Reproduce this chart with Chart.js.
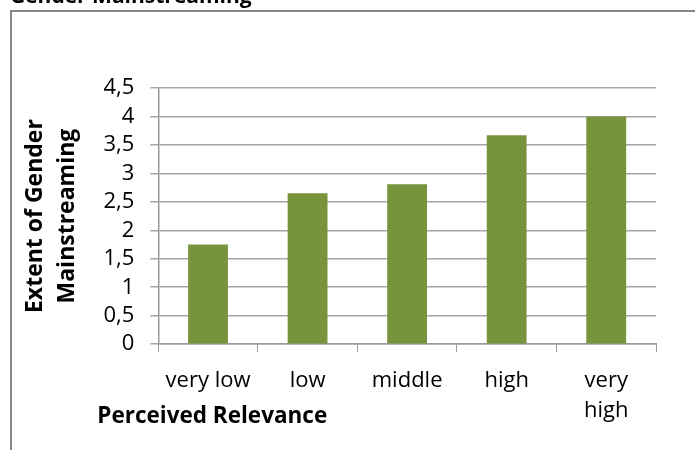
<!DOCTYPE html>
<html lang="en">
<head>
    <meta charset="UTF-8">
    <title>Gender Mainstreaming</title>
    <script src="https://cdn.jsdelivr.net/npm/chart.js"></script>
    <style>
        html, body { margin: 0; padding: 0; background: #fff; overflow: hidden; }
        #wrap { position: relative; width: 695px; height: 450px; }
        #topTitle {
            position: absolute; left: 10px; top: -19px;
            font: bold 21px "Open Sans", sans-serif; color: #000; white-space: nowrap;
        }
    </style>
</head>
<body>
    <div id="wrap">
        <canvas id="chart" width="695" height="450"></canvas>
        <div id="topTitle">Gender Mainstreaming</div>
    </div>

    <script>
        // Data
        const categories = ['very low', 'low', 'middle', 'high', ['very', 'high']];
        const extentValues = [1.75, 2.65, 2.81, 3.67, 4.0];
        const yTickLabels = ['0', '0,5', '1', '1,5', '2', '2,5', '3', '3,5', '4', '4,5'];

        const xTitle = 'Perceived Relevance';
        const yTitle = ['Extent of Gender', 'Mainstreaming'];

        const FONT = '"Open Sans", sans-serif';

        // frame + x-axis title placed like the original (left of centre)
        const extras = {
            id: 'extras',
            beforeDraw(chart) {
                const c = chart.ctx;
                c.save();
                c.strokeStyle = '#868686';
                c.lineWidth = 2;
                c.strokeRect(11, 11, 900, 700);
                c.restore();
            },
            afterDraw(chart) {
                const c = chart.ctx;
                const area = chart.chartArea;
                c.save();
                c.font = 'bold 22.5px ' + FONT;
                c.fillStyle = '#000';
                c.textAlign = 'center';
                c.textBaseline = 'middle';
                c.fillText(xTitle, area.left + 54, 417);
                c.restore();
            }
        };

        new Chart(document.getElementById('chart'), {
            type: 'bar',
            data: {
                labels: categories,
                datasets: [{
                    label: 'Extent of Gender Mainstreaming',
                    data: extentValues,
                    backgroundColor: '#77933C',
                    categoryPercentage: 1.0,
                    barPercentage: 0.4
                }]
            },
            options: {
                responsive: false,
                animation: false,
                layout: { padding: { left: 19, right: 39, top: 88, bottom: 10 } },
                plugins: {
                    legend: { display: false },
                    tooltip: { enabled: false }
                },
                scales: {
                    x: {
                        offset: true,
                        grid: {
                            offset: true,
                            drawOnChartArea: false,
                            drawTicks: true,
                            tickLength: 8,
                            color: '#9a9a9a'
                        },
                        border: { color: '#9a9a9a', width: 1.5 },
                        ticks: {
                            color: '#000',
                            padding: 14,
                            maxRotation: 0,
                            autoSkip: false,
                            font: { family: FONT, size: 22, lineHeight: 1.36 }
                        }
                    },
                    y: {
                        min: 0,
                        max: 4.5,
                        grid: { color: '#a6a6a6', lineWidth: 1.5, tickLength: 8 },
                        border: { color: '#9a9a9a', width: 1.5 },
                        ticks: {
                            stepSize: 0.5,
                            color: '#000',
                            padding: 16,
                            font: { family: FONT, size: 22, lineHeight: 1.0 },
                            callback: (v, i) => yTickLabels[i]
                        },
                        title: {
                            display: true,
                            text: yTitle,
                            color: '#000',
                            padding: { top: 0, bottom: 4 },
                            font: { family: FONT, size: 23, weight: 'bold', lineHeight: 1.4 }
                        }
                    }
                }
            },
            plugins: [extras]
        });
    </script>
</body>
</html>
